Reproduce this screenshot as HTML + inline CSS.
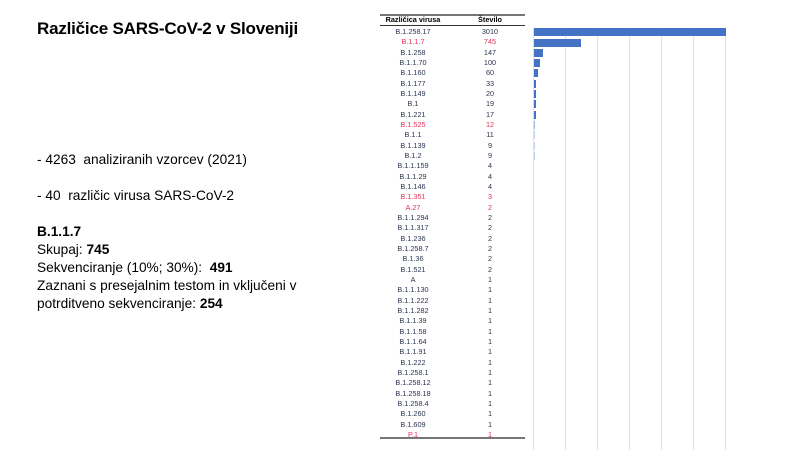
<!DOCTYPE html>
<html><head><meta charset="utf-8"><style>
body{margin:0;width:800px;height:450px;background:#fff;position:relative;overflow:hidden;font-family:"Liberation Sans",sans-serif;}
.t{position:absolute;left:37px;color:#000;white-space:nowrap;font-size:13.7px;}
.r{position:absolute;left:380px;width:145px;height:10px;font-size:7.3px;line-height:10px;color:#2a3550;}
.r span{position:absolute;text-align:center}
.r .a{left:0;width:66px}
.r .b{left:75px;width:70px}
.red{color:#e8305a}
.g{position:absolute;top:27px;height:423px;width:1px;background:#e2e2e2}
.bar{position:absolute;left:534px;height:8px;background:#4472c4}
</style></head><body>
<div class="t" style="top:19px;font-size:17px;font-weight:bold;letter-spacing:-0.2px">Različice SARS-CoV-2 v Sloveniji</div>
<div class="t" style="top:152px">- 4263&nbsp; analiziranih vzorcev (2021)</div>
<div class="t" style="top:188px">- 40&nbsp; različic virusa SARS-CoV-2</div>
<div class="t" style="top:224px;font-weight:bold">B.1.1.7</div>
<div class="t" style="top:242px">Skupaj: <b>745</b></div>
<div class="t" style="top:260px">Sekvenciranje (10%; 30%):&nbsp; <b>491</b></div>
<div class="t" style="top:278px">Zaznani s presejalnim testom in vključeni v</div>
<div class="t" style="top:296px">potrditveno sekvenciranje: <b>254</b></div>

<div style="position:absolute;left:380px;top:14px;width:145px;height:2px;background:#777"></div>
<div class="r" style="top:15px;font-weight:bold;color:#000"><span class="a">Različica virusa</span><span class="b">Število</span></div>
<div style="position:absolute;left:380px;top:25px;width:145px;height:1px;background:#333"></div>
<div style="position:absolute;left:380px;top:437px;width:145px;height:2px;background:#777"></div>

<div class="g" style="left:533px"></div><div class="g" style="left:565px"></div><div class="g" style="left:597px"></div><div class="g" style="left:629px"></div><div class="g" style="left:661px"></div><div class="g" style="left:693px"></div><div class="g" style="left:725px"></div>

<div class="bar" style="top:28px;width:192px"></div>
<div class="bar" style="top:39px;width:47px"></div>
<div class="bar" style="top:49px;width:9px"></div>
<div class="bar" style="top:59px;width:6px"></div>
<div class="bar" style="top:69px;width:4px"></div>
<div class="bar" style="top:80px;width:2px"></div>
<div class="bar" style="top:90px;width:1.5px"></div>
<div class="bar" style="top:100px;width:1.5px"></div>
<div class="bar" style="top:111px;width:1.5px"></div>
<div class="bar" style="top:121px;width:1px;background:#9fb4df"></div>
<div class="bar" style="top:131px;width:1px;background:#c5d2ee"></div>
<div class="bar" style="top:142px;width:1px;background:#c5d2ee"></div>
<div class="bar" style="top:152px;width:1px;background:#c5d2ee"></div>

<div class="r" style="top:27px"><span class="a">B.1.258.17</span><span class="b">3010</span></div>
<div class="r red" style="top:37px"><span class="a">B.1.1.7</span><span class="b">745</span></div>
<div class="r" style="top:48px"><span class="a">B.1.258</span><span class="b">147</span></div>
<div class="r" style="top:58px"><span class="a">B.1.1.70</span><span class="b">100</span></div>
<div class="r" style="top:68px"><span class="a">B.1.160</span><span class="b">60</span></div>
<div class="r" style="top:79px"><span class="a">B.1.177</span><span class="b">33</span></div>
<div class="r" style="top:89px"><span class="a">B.1.149</span><span class="b">20</span></div>
<div class="r" style="top:99px"><span class="a">B.1</span><span class="b">19</span></div>
<div class="r" style="top:110px"><span class="a">B.1.221</span><span class="b">17</span></div>
<div class="r red" style="top:120px"><span class="a">B.1.525</span><span class="b">12</span></div>
<div class="r" style="top:130px"><span class="a">B.1.1</span><span class="b">11</span></div>
<div class="r" style="top:141px"><span class="a">B.1.139</span><span class="b">9</span></div>
<div class="r" style="top:151px"><span class="a">B.1.2</span><span class="b">9</span></div>
<div class="r" style="top:161px"><span class="a">B.1.1.159</span><span class="b">4</span></div>
<div class="r" style="top:172px"><span class="a">B.1.1.29</span><span class="b">4</span></div>
<div class="r" style="top:182px"><span class="a">B.1.146</span><span class="b">4</span></div>
<div class="r red" style="top:192px"><span class="a">B.1.351</span><span class="b">3</span></div>
<div class="r red" style="top:203px"><span class="a">A.27</span><span class="b">2</span></div>
<div class="r" style="top:213px"><span class="a">B.1.1.294</span><span class="b">2</span></div>
<div class="r" style="top:223px"><span class="a">B.1.1.317</span><span class="b">2</span></div>
<div class="r" style="top:234px"><span class="a">B.1.236</span><span class="b">2</span></div>
<div class="r" style="top:244px"><span class="a">B.1.258.7</span><span class="b">2</span></div>
<div class="r" style="top:254px"><span class="a">B.1.36</span><span class="b">2</span></div>
<div class="r" style="top:265px"><span class="a">B.1.521</span><span class="b">2</span></div>
<div class="r" style="top:275px"><span class="a">A</span><span class="b">1</span></div>
<div class="r" style="top:285px"><span class="a">B.1.1.130</span><span class="b">1</span></div>
<div class="r" style="top:296px"><span class="a">B.1.1.222</span><span class="b">1</span></div>
<div class="r" style="top:306px"><span class="a">B.1.1.282</span><span class="b">1</span></div>
<div class="r" style="top:316px"><span class="a">B.1.1.39</span><span class="b">1</span></div>
<div class="r" style="top:327px"><span class="a">B.1.1.58</span><span class="b">1</span></div>
<div class="r" style="top:337px"><span class="a">B.1.1.64</span><span class="b">1</span></div>
<div class="r" style="top:347px"><span class="a">B.1.1.91</span><span class="b">1</span></div>
<div class="r" style="top:358px"><span class="a">B.1.222</span><span class="b">1</span></div>
<div class="r" style="top:368px"><span class="a">B.1.258.1</span><span class="b">1</span></div>
<div class="r" style="top:378px"><span class="a">B.1.258.12</span><span class="b">1</span></div>
<div class="r" style="top:389px"><span class="a">B.1.258.18</span><span class="b">1</span></div>
<div class="r" style="top:399px"><span class="a">B.1.258.4</span><span class="b">1</span></div>
<div class="r" style="top:409px"><span class="a">B.1.260</span><span class="b">1</span></div>
<div class="r" style="top:420px"><span class="a">B.1.609</span><span class="b">1</span></div>
<div class="r red" style="top:430px"><span class="a">P.1</span><span class="b">1</span></div>
</body></html>
